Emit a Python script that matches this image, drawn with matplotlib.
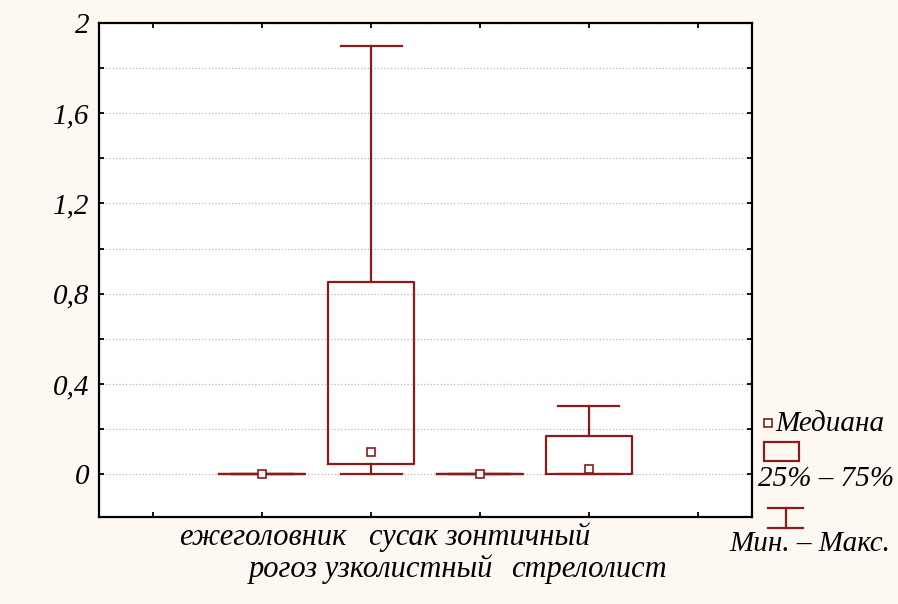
import matplotlib.pyplot as plt
from matplotlib.patches import Rectangle
from matplotlib.lines import Line2D
from matplotlib.ticker import MultipleLocator, FuncFormatter

# data
species = ['ежеголовник', 'рогоз узколистный', 'сусак зонтичный', 'стрелолист']
v_min = [0.0, 0.0, 0.0, 0.0]
v_q1 = [0.0, 0.043, 0.0, 0.0]
v_med = [0.0, 0.1, 0.0, 0.022]
v_q3 = [0.0, 0.85, 0.0, 0.17]
v_max = [0.0, 1.9, 0.0, 0.3]

col = '#8b1a1a'
serif = ['Liberation Serif', 'DejaVu Serif']

W, H = 898, 604
fig = plt.figure(figsize=(W / 100, H / 100), dpi=100, facecolor='#fdf9f2')
ax = fig.add_axes([99 / W, 1 - 517 / H, (752 - 99) / W, (517 - 23) / H])
ax.set_facecolor('white')

pos = list(range(1, len(species) + 1))
stats = []
for i in range(len(species)):
    stats.append(dict(whislo=v_min[i], q1=v_q1[i], med=v_med[i],
                      q3=v_q3[i], whishi=v_max[i], fliers=[]))

lp = dict(color=col, linewidth=1.6)
ax.bxp(stats, positions=pos, widths=0.79, capwidths=0.56,
       boxprops=lp, whiskerprops=lp, capprops=lp,
       medianprops=dict(linestyle='none'), showfliers=False,
       manage_ticks=False)
ax.plot(pos, v_med, 's', ms=6, mfc='white', mec=col, mew=1.2, zorder=5)

ax.set_xlim(-0.5, 5.5)
ax.set_ylim(-0.19, 2.0)

ax.set_xticks(range(0, 6))
ax.set_xticklabels([''] + species + [''], family=serif, style='italic', fontsize=22)
# staggered labels: every second one on a lower row
for i, tk in enumerate(ax.xaxis.get_major_ticks()):
    tk.set_pad(27 if i in (2, 4) else 4)

ax.yaxis.set_major_locator(MultipleLocator(0.4))
ax.yaxis.set_minor_locator(MultipleLocator(0.2))
ax.yaxis.set_major_formatter(FuncFormatter(lambda v, p: ('%g' % round(v, 2)).replace('.', ',')))
for t in ax.get_yticklabels():
    t.set_family(serif)
    t.set_style('italic')
    t.set_fontsize(21)

ax.grid(axis='y', which='both', linestyle=':', color='#b8b8b8', linewidth=0.9)
ax.tick_params(which='both', direction='in', top=True, right=True,
               length=3.5, width=1.3, color='black')
ax.tick_params(axis='y', which='major', pad=7)
for sp in ax.spines.values():
    sp.set_linewidth(1.6)
    sp.set_color('black')

# legend drawn by hand, outside the axes
def fx(px):
    return px / W

def fy(py):
    return 1 - py / H

fs_leg = 21
fig.add_artist(Line2D([fx(768)], [fy(423)], marker='s', ms=6, mfc='white',
                      mec=col, mew=1.2, transform=fig.transFigure))
fig.text(fx(775), fy(424), 'Медиана', family=serif, style='italic',
         fontsize=fs_leg, va='center', ha='left')
fig.add_artist(Rectangle((fx(764), fy(461)), fx(35), 19 / H, fill=False,
                         edgecolor=col, linewidth=1.6, transform=fig.transFigure))
fig.text(fx(758), fy(479), '25% – 75%', family=serif, style='italic',
         fontsize=fs_leg, va='center', ha='left')
fig.add_artist(Line2D([fx(768), fx(803)], [fy(508), fy(508)], color=col,
                      linewidth=1.6, transform=fig.transFigure))
fig.add_artist(Line2D([fx(768), fx(803)], [fy(528), fy(528)], color=col,
                      linewidth=1.6, transform=fig.transFigure))
fig.add_artist(Line2D([fx(785.5), fx(785.5)], [fy(508), fy(528)], color=col,
                      linewidth=1.6, transform=fig.transFigure))
fig.text(fx(729), fy(544), 'Мин. – Макс.', family=serif, style='italic',
         fontsize=fs_leg, va='center', ha='left')

fig.savefig('out.png', dpi=100, facecolor=fig.get_facecolor())
